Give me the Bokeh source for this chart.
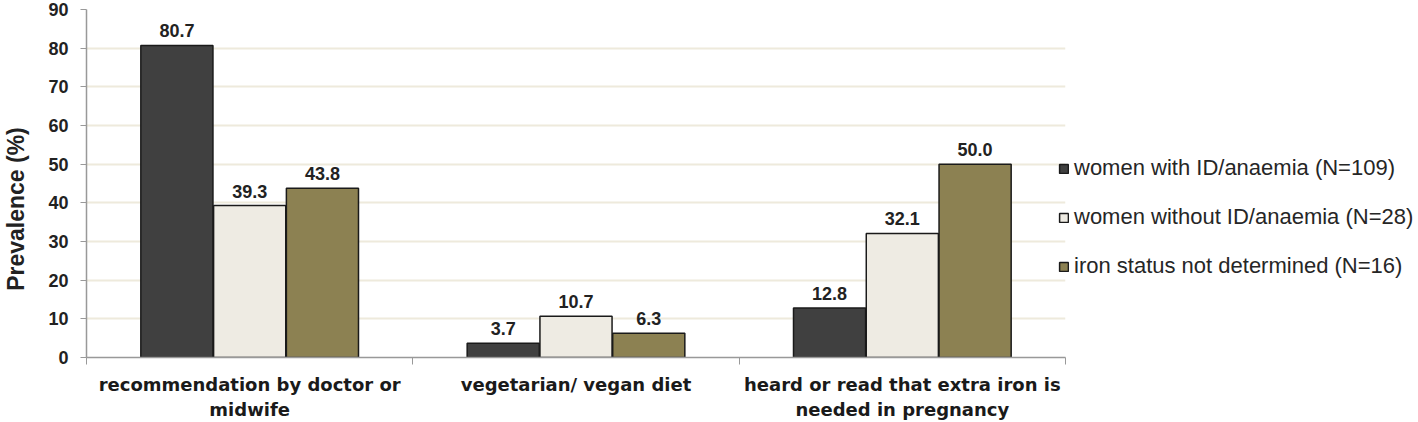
from bokeh.plotting import figure
from bokeh.models import (ColumnDataSource, FixedTicker, Legend, LegendItem, LabelSet, Range1d)
from bokeh.core.properties import value
from bokeh.embed import file_html
from bokeh.resources import INLINE

categories = ["recommendation by doctor or\nmidwife", "vegetarian/ vegan diet",
              "heard or read that extra iron is\nneeded in pregnancy"]
series_names = ["women with ID/anaemia (N=109)", "women without ID/anaemia (N=28)",
                "iron status not determined (N=16)"]
with_id = [80.7, 3.7, 12.8]
without_id = [39.3, 10.7, 32.1]
not_determined = [43.8, 6.3, 50.0]
y_ticks = [0, 10, 20, 30, 40, 50, 60, 70, 80, 90]

colors = ["#404040", "#EEEBE3", "#8C8152"]
series = [with_id, without_id, not_determined]
offsets = [-0.223, 0.0, 0.223]
bw = 0.221

FONT = "Liberation Sans"
WIDE = "DejaVu Sans"

p = figure(frame_width=979, frame_height=348, output_backend="svg", toolbar_location=None,
           x_range=Range1d(0, 3), y_range=Range1d(0, 90),
           min_border_left=86, min_border_top=9, min_border_bottom=63, min_border_right=350)
p.outline_line_color = None
p.background_fill_color = "white"

centers = [i + 0.5 for i in range(len(categories))]
items = []
for k, (vals, col, off) in enumerate(zip(series, colors, offsets)):
    src = ColumnDataSource(dict(x=[c + off for c in centers], top=vals,
                                lab=["%.1f" % v for v in vals]))
    r = p.vbar(x="x", top="top", width=bw, source=src, fill_color=col,
               line_color="#1a1a1a", line_width=1.5)
    items.append(LegendItem(label=series_names[k], renderers=[r]))
    p.add_layout(LabelSet(x="x", y="top", text="lab", source=src, text_align="center",
                          text_baseline="bottom", y_offset=8, text_font=value(FONT),
                          text_font_style="bold", text_font_size="18px",
                          text_color="#222222"))

# axes
p.xaxis.ticker = FixedTicker(ticks=centers, minor_ticks=[0, 1, 2, 3])
p.xaxis.major_label_overrides = {c: lab for c, lab in zip(centers, categories)}
p.xaxis.major_tick_out = 0
p.xaxis.major_tick_in = 0
p.xaxis.minor_tick_out = 7
p.xaxis.minor_tick_in = 0
p.xaxis.minor_tick_line_color = "#999999"
p.xaxis.axis_line_color = "#999999"
p.xaxis.axis_line_width = 1.5
p.xaxis.major_label_text_font = WIDE
p.xaxis.major_label_text_font_style = "bold"
p.xaxis.major_label_text_font_size = "18px"
p.xaxis.major_label_text_color = "#1a1a1a"
p.xaxis.major_label_standoff = 9

p.yaxis.ticker = FixedTicker(ticks=y_ticks)
p.yaxis.axis_label = "Prevalence (%)" + "\u00a0" * 8
p.yaxis.axis_label_text_font = FONT
p.yaxis.axis_label_text_font_style = "bold"
p.yaxis.axis_label_text_font_size = "23px"
p.yaxis.axis_label_text_color = "#222222"
p.yaxis.axis_label_standoff = 16
p.yaxis.major_label_text_font = FONT
p.yaxis.major_label_text_font_style = "bold"
p.yaxis.major_label_text_font_size = "18px"
p.yaxis.major_label_text_color = "#222222"
p.yaxis.major_label_standoff = 12
p.yaxis.major_tick_out = 6
p.yaxis.major_tick_in = 0
p.yaxis.minor_tick_line_color = None
p.yaxis.major_tick_line_color = "#999999"
p.yaxis.axis_line_color = "#999999"
p.yaxis.axis_line_width = 1.5

p.xgrid.grid_line_color = None
p.ygrid.grid_line_color = "#EEEADC"
p.ygrid.grid_line_width = 2

legend = Legend(items=items, location=(-7, 78), orientation="vertical",
                label_text_font=FONT, label_text_font_size="22px", label_text_color="#262626",
                glyph_width=11, glyph_height=11, spacing=23, padding=0, margin=0,
                label_standoff=5, border_line_color=None, background_fill_alpha=0)
p.add_layout(legend, "right")

open("out.html", "w").write(file_html(p, INLINE))
